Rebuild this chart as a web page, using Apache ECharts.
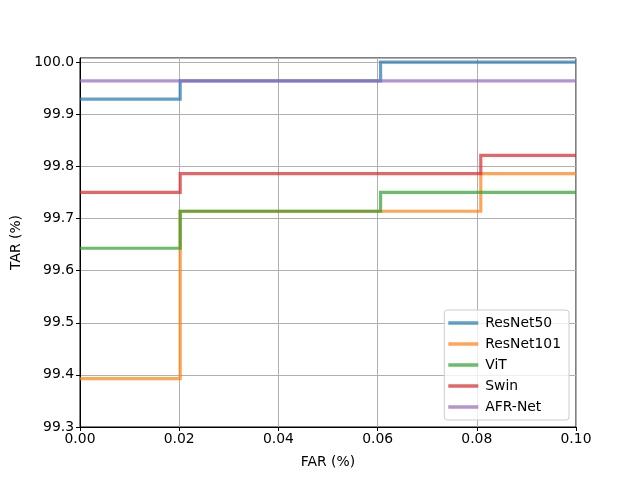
<!DOCTYPE html>
<html>
<head>
<meta charset="UTF-8" />
<title>TAR vs FAR</title>
<script src="https://cdn.jsdelivr.net/npm/echarts@6/dist/echarts.min.js"></script>
<style>
  html, body { margin: 0; padding: 0; background: #fff; }
  #chart { width: 640px; height: 480px; }
</style>
</head>
<body>
<div id="chart"></div>
<script>
// step curves: FAR breakpoints and TAR values (value holds until next breakpoint)
var names = ['ResNet50', 'ResNet101', 'ViT', 'Swin', 'AFR-Net'];
var colors = ['rgba(31,119,180,0.7)', 'rgba(255,127,14,0.7)', 'rgba(44,160,44,0.7)',
              'rgba(214,39,40,0.7)', 'rgba(148,103,189,0.7)'];

var farResNet50  = [0, 0.0202, 0.0606, 0.1];
var tarResNet50  = [99.929, 99.964, 100.0, 100.0];
var farResNet101 = [0, 0.0202, 0.0808, 0.1];
var tarResNet101 = [99.393, 99.714, 99.786, 99.786];
var farViT       = [0, 0.0202, 0.0606, 0.1];
var tarViT       = [99.643, 99.714, 99.75, 99.75];
var farSwin      = [0, 0.0202, 0.0808, 0.1];
var tarSwin      = [99.75, 99.786, 99.821, 99.821];
var farAFR       = [0, 0.1];
var tarAFR       = [99.964, 99.964];

var xTicks = [0, 0.02, 0.04, 0.06, 0.08, 0.10];
var yTicks = [99.3, 99.4, 99.5, 99.6, 99.7, 99.8, 99.9, 100.0];

function pairs(xs, ys) {
  var out = [];
  for (var i = 0; i < xs.length; i++) out.push([xs[i], ys[i]]);
  return out;
}

var allX = [farResNet50, farResNet101, farViT, farSwin, farAFR];
var allY = [tarResNet50, tarResNet101, tarViT, tarSwin, tarAFR];

var font = 'DejaVu Sans';
var series = [];
for (var k = 0; k < names.length; k++) {
  series.push({
    name: names[k],
    type: 'line',
    step: 'end',
    showSymbol: false,
    symbol: 'none',
    clip: true,
    data: pairs(allX[k], allY[k]),
    lineStyle: { color: colors[k], width: 3.2, cap: 'butt', join: 'miter' },
    itemStyle: { color: colors[k] },
    emphasis: { disabled: true }
  });
}

var chart = echarts.init(document.getElementById('chart'), null, { renderer: 'canvas' });
chart.setOption({
  animation: false,
  grid: { left: 80, right: 64, top: 58, bottom: 53, show: true,
          borderColor: '#000', borderWidth: 1, backgroundColor: 'transparent' },
  legend: {
    orient: 'vertical',
    right: 71, bottom: 60,
    data: names,
    icon: 'rect',
    itemWidth: 30, itemHeight: 3.5,
    itemGap: 7,
    padding: [6, 8, 6, 4],
    backgroundColor: 'rgba(255,255,255,0.8)',
    borderColor: '#cccccc', borderWidth: 1, borderRadius: 3,
    textStyle: { fontFamily: font, fontSize: 13.9, color: '#000', lineHeight: 14, padding: [0, 0, 0, 2] }
  },
  xAxis: {
    type: 'value',
    min: xTicks[0], max: xTicks[xTicks.length - 1], interval: 0.02,
    name: 'FAR (%)', nameLocation: 'middle', nameGap: 28,
    nameTextStyle: { fontFamily: font, fontSize: 13.9, color: '#000' },
    axisLine: { show: true, lineStyle: { color: '#000', width: 1 } },
    axisTick: { show: true, length: 4, lineStyle: { color: '#000', width: 1 } },
    axisLabel: { fontFamily: font, fontSize: 13.9, color: '#000', margin: 5,
                 formatter: function (v) { return v.toFixed(2); } },
    splitLine: { show: true, lineStyle: { color: '#b0b0b0', width: 1 } }
  },
  yAxis: {
    type: 'value',
    min: yTicks[0], max: 100.008, interval: 0.1,
    name: 'TAR (%)', nameLocation: 'middle', nameGap: 50,
    nameTextStyle: { fontFamily: font, fontSize: 13.9, color: '#000' },
    axisLine: { show: true, lineStyle: { color: '#000', width: 1 } },
    axisTick: { show: true, length: 4, lineStyle: { color: '#000', width: 1 } },
    axisLabel: { fontFamily: font, fontSize: 13.9, color: '#000', margin: 6,
                 showMaxLabel: false,
                 formatter: function (v) { return v.toFixed(1); } },
    splitLine: { show: true, lineStyle: { color: '#b0b0b0', width: 1 } }
  },
  series: series
});
</script>
</body>
</html>
